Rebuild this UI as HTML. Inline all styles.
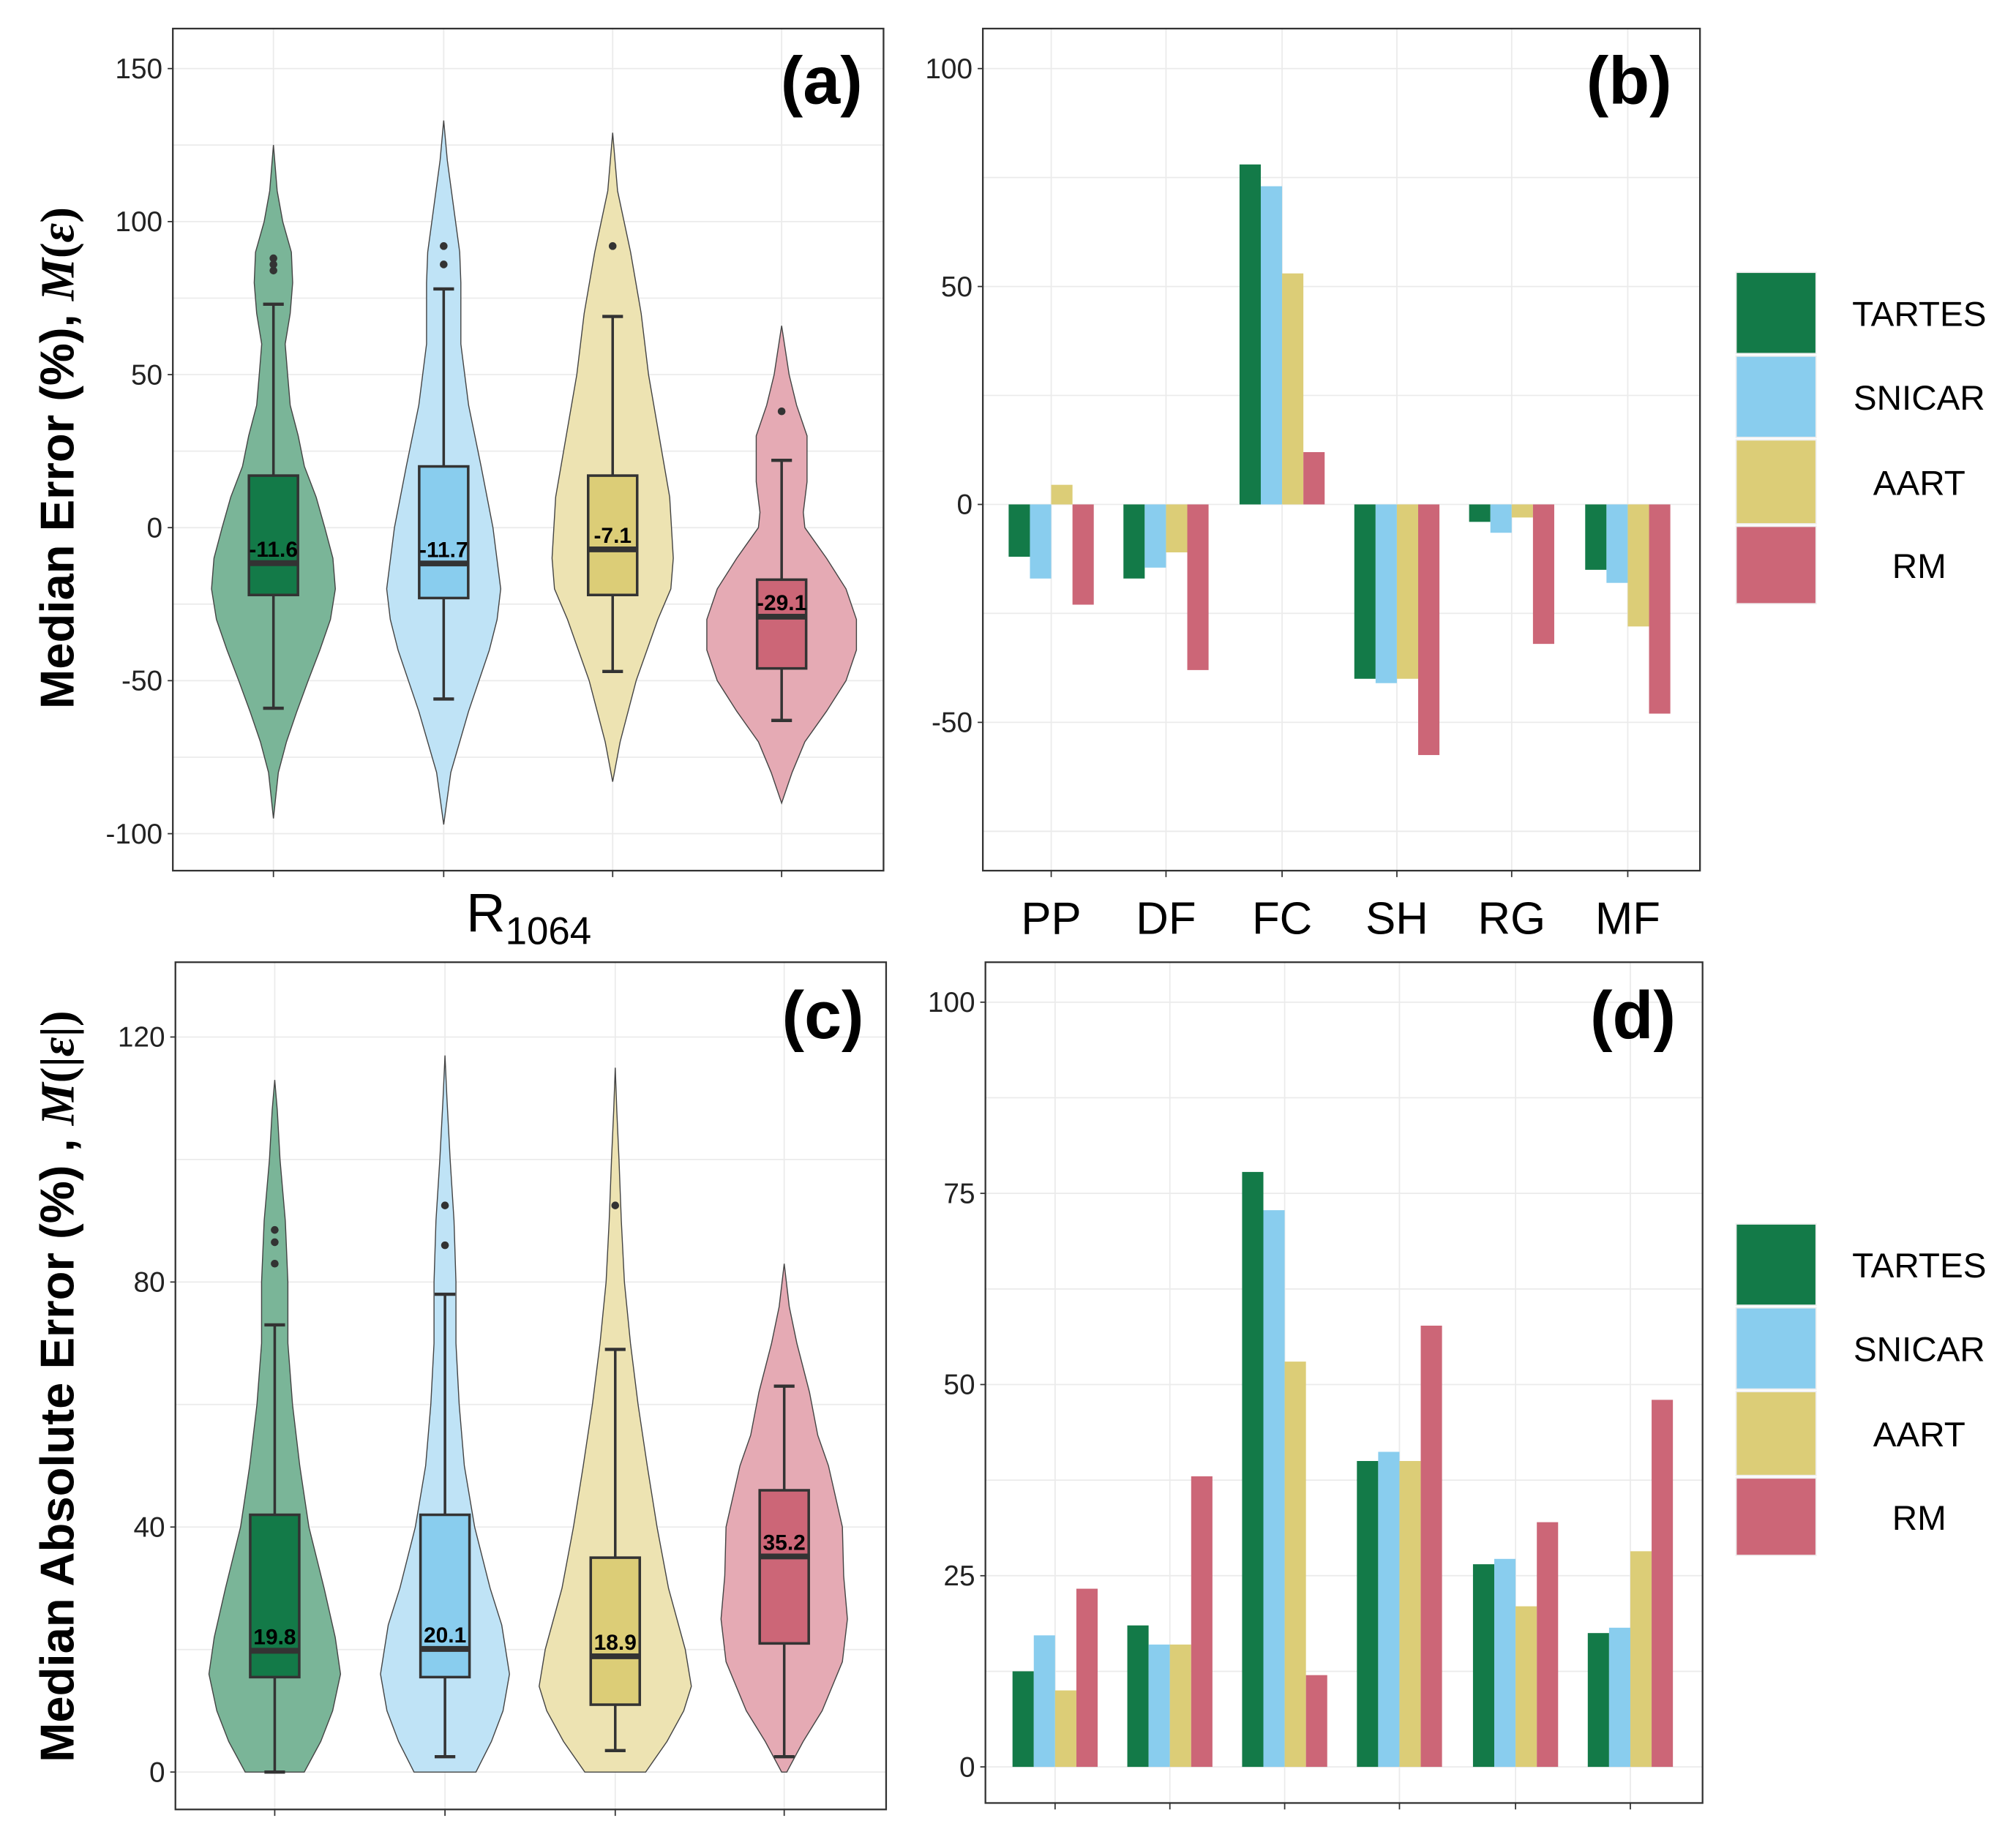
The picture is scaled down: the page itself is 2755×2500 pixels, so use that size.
<!DOCTYPE html>
<html><head><meta charset="utf-8">
<style>html,body{margin:0;padding:0;background:#fff}svg{display:block}text{font-family:"Liberation Sans",Arial,sans-serif}</style>
</head><body>
<svg id="chart" width="2755" height="2500" viewBox="0 0 1563 1418" xmlns="http://www.w3.org/2000/svg">
<rect width="1563" height="1418" fill="#fff"/>
<g id="root"></g>
</svg>
<script>
const modelNames = ["TARTES","SNICAR","AART","RM"];
const modelColors = ["#137a48","#89cdee","#dccd77","#cc6677"];
const violinFill = ["#7ab598","#bfe3f6","#ede3b2","#e5aab4"];
const barCats = ["PP","DF","FC","SH","RG","MF"];
// panel b values (rows = category, cols = model)
const bTartes = [-12,-17,78,-40,-4,-15];
const bSnicar = [-17,-14.5,73,-41,-6.5,-18];
const bAart = [4.5,-11,53,-40,-3,-28];
const bRm = [-23,-38,12,-57.5,-32,-48];
// panel d values
const dTartes = [12.5,18.5,77.8,40,26.5,17.5];
const dSnicar = [17.2,16,72.8,41.2,27.2,18.2];
const dAart = [10,16,53,40,21,28.2];
const dRm = [23.3,38,12,57.7,32,48];
const bTicks = [100,50,0,-50];
const dTicks = [100,75,50,25,0];
const aTicks = [150,100,50,0,-50,-100];
const cTicks = [120,80,40,0];
// panel a boxplot stats: [whiskerLow, q1, median, q3, whiskerHigh]
const aStats = [[-59,-22,-11.6,17,73],[-56,-23,-11.7,20,78],[-47,-22,-7.1,17,69],[-63,-46,-29.1,-17,22]];
const aOutliers = [[84,86,88],[86,92],[92],[38]];
const aMedLabels = ["-11.6","-11.7","-7.1","-29.1"];
// violin density profiles: [value, relative half-width 0..1]
const aViolins = [
 [[125,0],[110,.06],[100,.15],[90,.29],[80,.31],[70,.27],[60,.19],[50,.23],[40,.27],[30,.4],[20,.5],[10,.69],[0,.83],[-10,.96],[-20,1],[-30,.92],[-40,.75],[-50,.56],[-60,.38],[-70,.21],[-80,.08],[-95,0]],
 [[133,0],[120,.06],[100,.2],[90,.27],[80,.29],[60,.29],[40,.42],[20,.63],[0,.83],[-20,.96],[-30,.9],[-40,.77],[-60,.42],[-80,.12],[-97,0]],
 [[129,0],[110,.08],[90,.29],[70,.46],[50,.58],[30,.75],[10,.92],[-10,.98],[-20,.94],[-30,.73],[-50,.38],[-70,.12],[-83,0]],
 [[66,0],[50,.1],[40,.2],[30,.34],[15,.34],[5,.29],[0,.31],[-10,.6],[-20,.86],[-30,1],[-40,1],[-50,.86],[-60,.6],[-70,.31],[-80,.14],[-90,0]]
];
const cStats = [[0,15.5,19.8,42,73],[2.5,15.5,20.1,42,78],[3.5,11,18.9,35,69],[2.5,21,35.2,46,63]];
const cOutliers = [[83,86.5,88.5],[86,92.5],[92.5],[]];
const cMedLabels = ["19.8","20.1","18.9","35.2"];
const cViolins = [
 [[0,.45],[5,.7],[10,.88],[16,1],[22,.92],[30,.75],[40,.52],[50,.38],[60,.27],[70,.2],[80,.2],[90,.16],[100,.08],[108,.04],[113,0]],
 [[0,.48],[5,.72],[10,.9],[16,1],[24,.88],[30,.7],[40,.46],[50,.3],[60,.22],[70,.17],[80,.17],[90,.14],[100,.08],[110,.03],[117,0]],
 [[0,.4],[5,.68],[10,.9],[14,1],[20,.92],[30,.7],[40,.55],[50,.42],[60,.3],[70,.2],[80,.12],[90,.08],[100,.05],[108,.02],[115,0]],
 [[0,.04],[5,.3],[10,.6],[18,.92],[25,1],[32,.94],[40,.92],[50,.7],[55,.53],[62,.4],[70,.2],[76,.08],[83,0]]
];

const NS="http://www.w3.org/2000/svg";
const root=document.getElementById('root');
function el(tag,attrs,parent,txt){const e=document.createElementNS(NS,tag);for(const k in attrs)e.setAttribute(k,attrs[k]);if(txt!==undefined)e.textContent=txt;(parent||root).appendChild(e);return e;}
function lin(d0,d1,r0,r1){return v=>r0+(v-d0)*(r1-r0)/(d1-d0);}

function frame(g,x0,y0,x1,y1){
  const r=el('rect',{x:x0,y:y0,width:x1-x0,height:y1-y0,fill:'none',stroke:'#333','stroke-width':1.3},g);
  
  
}
function grid(g,x0,x1,y0,y1,yvals,xvals,Y){
  yvals.forEach(v=>{el('line',{x1:x0,x2:x1,y1:Y(v),y2:Y(v),stroke:'#ebebeb','stroke-width':1},g);});
  xvals.forEach(x=>{el('line',{x1:x,x2:x,y1:y0,y2:y1,stroke:'#ebebeb','stroke-width':1},g);});
}
function yAxis(g,x0,ticks,Y,name){
  const ax=el('g',{},g);
  
  
  ticks.forEach(v=>{
    el('line',{x1:x0-4,x2:x0,y1:Y(v),y2:Y(v),stroke:'#333','stroke-width':1},ax);
    const t=el('text',{x:x0-8,y:Y(v)+7.5,'text-anchor':'end','font-size':22,fill:'#222'},ax,String(v));
    
    
  });
}
function xTicks(g,xs,y){xs.forEach(x=>el('line',{x1:x,x2:x,y1:y,y2:y+5,stroke:'#333','stroke-width':1},g));}

function violinPanel(name,box,Y,xs,violins,stats,outs,labels,halfMax,gridVals,ticks){
  const [x0,y0,x1,y1]=box;
  const g=el('g',{});
  
  
  grid(g,x0,x1,y0,y1,gridVals,xs,Y);
  violins.forEach((prof,i)=>{
    const cx=xs[i],hm=halfMax[i];
    let pts=prof.map(p=>[cx+p[1]*hm,Y(p[0])]);
    let left=prof.slice().reverse().map(p=>[cx-p[1]*hm,Y(p[0])]);
    const d='M'+pts.concat(left).map(p=>p[0].toFixed(1)+','+p[1].toFixed(1)).join('L')+'Z';
    const v=el('path',{d:d,fill:violinFill[i],stroke:'#444','stroke-width':0.8},g);
    
    
    const s=stats[i],bw=19;
    el('line',{x1:cx,x2:cx,y1:Y(s[0]),y2:Y(s[4]),stroke:'#333','stroke-width':2},g);
    el('line',{x1:cx-8,x2:cx+8,y1:Y(s[0]),y2:Y(s[0]),stroke:'#333','stroke-width':2.5},g);
    el('line',{x1:cx-8,x2:cx+8,y1:Y(s[4]),y2:Y(s[4]),stroke:'#333','stroke-width':2.5},g);
    const b=el('rect',{x:cx-bw,y:Y(s[3]),width:2*bw,height:Y(s[1])-Y(s[3]),fill:modelColors[i],stroke:'#333','stroke-width':2},g);
    
    
    el('line',{x1:cx-bw,x2:cx+bw,y1:Y(s[2]),y2:Y(s[2]),stroke:'#333','stroke-width':4.5},g);
    const t=el('text',{x:cx,y:Y(s[2])-5,'text-anchor':'middle','font-size':17,'font-weight':'bold',fill:'#000'},g,labels[i]);
    
    
    outs[i].forEach(o=>{const c=el('circle',{cx:cx,cy:Y(o),r:3,fill:'#333'},g);});
  });
  frame(g,x0,y0,x1,y1);
  yAxis(g,x0,ticks,Y,'y-axis');
  xTicks(g,xs,y1);
  return g;
}

function barPanel(name,box,Y,xs,series,gridVals,ticks){
  const [x0,y0,x1,y1]=box;
  const g=el('g',{});
  
  
  grid(g,x0,x1,y0,y1,gridVals,xs,Y);
  const bw=16.5;
  xs.forEach((cx,ci)=>{
    series.forEach((arr,si)=>{
      const v=arr[ci],bx=cx-2*bw+si*bw;
      const r=el('rect',{x:bx,y:Math.min(Y(v),Y(0)),width:bw,height:Math.abs(Y(v)-Y(0)),fill:modelColors[si]},g);
      
      
    });
  });
  frame(g,x0,y0,x1,y1);
  yAxis(g,x0,ticks,Y,'y-axis');
  xTicks(g,xs,y1);
  return g;
}

function legend(ys){
  const g=el('g',{});
  
  
  modelNames.forEach((n,i)=>{
    const e=el('g',{},g);
    
    
    el('rect',{x:1346,y:ys[i],width:62,height:ys[i+1]-ys[i]-2,fill:modelColors[i],stroke:'#eee','stroke-width':1},e);
    el('text',{x:1488,y:(ys[i]+ys[i+1])/2+9,'text-anchor':'middle','font-size':27,fill:'#000'},e,n);
  });
}

function title(txt,x,y,name){const t=el('text',{x:x,y:y,'text-anchor':'middle','font-size':52,'font-weight':'bold',fill:'#000'},root,txt);}

// Panel a
const aX=[212,344,475,606];
const Ya=lin(0,150,409,53);
violinPanel('panel-a',[134,22,685,675],Ya,aX,aViolins,aStats,aOutliers,aMedLabels,[48,46,48,58],[150,125,100,75,50,25,0,-25,-50,-75,-100],aTicks);
title('(a)',637,80,'panel-a-label');
const r1=el('text',{x:410,y:722,'text-anchor':'middle','font-size':42,fill:'#000'},root);


r1.innerHTML='R<tspan font-size="30" dy="10">1064</tspan>';
const ya=el('text',{transform:'translate(57,355) rotate(-90)','text-anchor':'middle','font-size':37,'font-weight':'bold',fill:'#000'},root);


ya.innerHTML='Median Error (%), <tspan font-family="Liberation Serif" font-style="italic">M</tspan><tspan font-family="Liberation Serif">(</tspan><tspan font-family="Liberation Serif" font-style="italic">ε</tspan><tspan font-family="Liberation Serif">)</tspan>';

// Panel b
const bX=[815,904,994,1083,1172,1262];
const Yb=lin(0,100,391,53);
barPanel('panel-b',[762,22,1318,675],Yb,bX,[bTartes,bSnicar,bAart,bRm],[100,75,50,25,0,-25,-50,-75],bTicks);
title('(b)',1263,80,'panel-b-label');
bX.forEach((x,i)=>{const t=el('text',{x:x,y:724,'text-anchor':'middle','font-size':35,fill:'#000'},root,barCats[i]);});
legend([211,276,341,408,470]);

// Panel c
const cX=[213,345,477,608];
const Yc=lin(0,120,1374,804);
violinPanel('panel-c',[136,746,687,1403],Yc,cX,cViolins,cStats,cOutliers,cMedLabels,[51,50,59,49],[120,100,80,60,40,20,0],cTicks);
title('(c)',638,805,'panel-c-label');
const yc=el('text',{transform:'translate(57,1075) rotate(-90)','text-anchor':'middle','font-size':37,'font-weight':'bold',fill:'#000'},root);


yc.innerHTML='Median Absolute Error (%) , <tspan font-family="Liberation Serif" font-style="italic">M</tspan><tspan font-family="Liberation Serif">(|</tspan><tspan font-family="Liberation Serif" font-style="italic">ε</tspan><tspan font-family="Liberation Serif">|)</tspan>';

// Panel d
const dX=[818,907,996,1085,1175,1264];
const Yd=lin(0,100,1370,777);
barPanel('panel-d',[764,746,1320,1398],Yd,dX,[dTartes,dSnicar,dAart,dRm],[100,87.5,75,62.5,50,37.5,25,12.5,0],dTicks);
title('(d)',1266,805,'panel-d-label');
legend([949,1014,1079,1146,1208]);
</script>
</body></html>
